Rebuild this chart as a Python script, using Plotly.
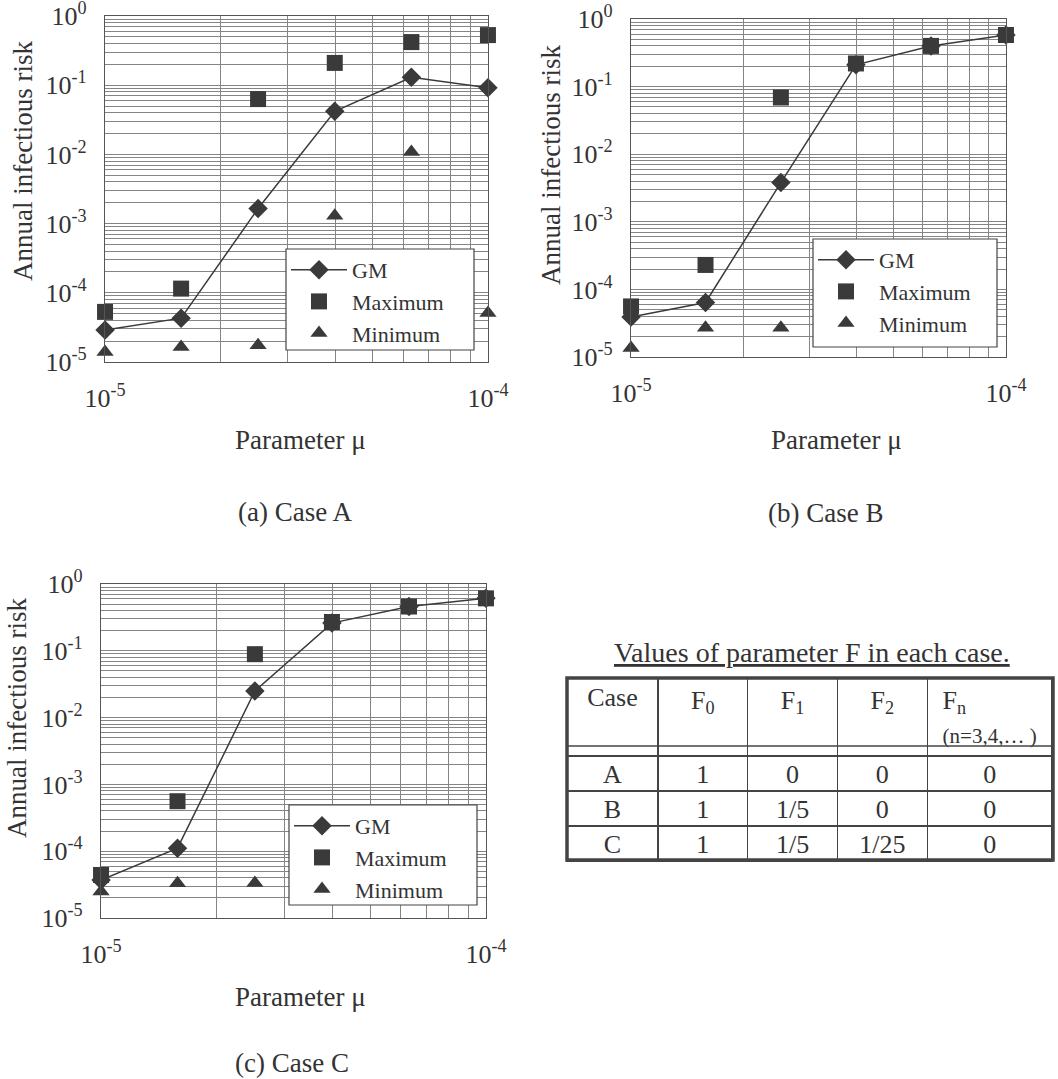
import plotly.graph_objects as go

W, H = 1058, 1079

# ---------------- data ----------------
mu = [1.0e-5, 1.58e-5, 2.51e-5, 3.98e-5, 6.31e-5, 1.0e-4]

gm_a = [2.9e-5, 4.3e-5, 1.65e-3, 4.2e-2, 0.13, 0.092]
max_a = [5.3e-5, 1.15e-4, 0.063, 0.21, 0.42, 0.53]
min_a = [1.4e-5, 1.65e-5, 1.75e-5, 1.3e-3, 1.08e-2, 5.1e-5]

gm_b = [3.9e-5, 6.4e-5, 3.8e-3, 0.21, 0.40, 0.58]
max_b = [5.6e-5, 2.3e-4, 0.069, 0.22, 0.40, 0.58]
min_b = [1.36e-5, 2.7e-5, 2.7e-5, None, None, None]

gm_c = [3.7e-5, 1.11e-4, 0.025, 0.26, 0.46, 0.61]
max_c = [4.4e-5, 5.6e-4, 0.089, 0.27, 0.46, 0.61]
min_c = [2.5e-5, 3.3e-5, 3.35e-5, None, None, None]

series_names = ["GM", "Maximum", "Minimum"]
case_labels = ["(a) Case A", "(b) Case B", "(c) Case C"]
y_decades = [-5, -4, -3, -2, -1, 0]
x_decades = [-5, -4]
x_title = "Parameter \u03bc"
y_title = "Annual infectious risk"

table_title = "Values of parameter F in each case."
table_header = ["Case", "F<sub>0</sub>", "F<sub>1</sub>", "F<sub>2</sub>",
                "F<sub>n</sub><br><span style='font-size:21px'>(n=3,4,\u2026 )</span>"]
table_case = ["A", "B", "C"]
table_f0 = ["1", "1", "1"]
table_f1 = ["0", "1/5", "1/5"]
table_f2 = ["0", "0", "1/25"]
table_fn = ["0", "0", "0"]

# ---------------- style ----------------
FONT = "Liberation Serif"
TXT = "#333333"
MK = "#3a3a3a"
GRID = "#858585"
EPS = 1e-4  # tiny range padding so edge points are not culled


def px_x(p):
    return p / W


def px_y(p):
    return 1 - p / H


def log_ticks(decades):
    vals, texts = [], []
    for d in decades[:-1]:
        for k in range(1, 10):
            vals.append(k * 10.0 ** d)
            texts.append("10<sup>%d</sup>" % d if k == 1 else "")
    vals.append(10.0 ** decades[-1])
    texts.append("10<sup>%d</sup>" % decades[-1])
    return vals, texts


yv, yt = log_ticks(y_decades)
xv, xt = log_ticks(x_decades)

# panel boxes in pixels: (left, right, top, bottom); legend box (l, r, t, b)
panels = [
    dict(box=(105, 488, 16, 362), data=(gm_a, max_a, min_a), legend=(286, 474, 249, 350),
         ytitle=(23, 161), xtitle=(300, 440), caption=(295, 512)),
    dict(box=(631, 1006, 19, 357), data=(gm_b, max_b, min_b), legend=(813, 997, 239, 347),
         ytitle=(551, 165), xtitle=(836, 440), caption=(825, 513)),
    dict(box=(101, 486, 584, 918), data=(gm_c, max_c, min_c), legend=(289, 477, 805, 905),
         ytitle=(17, 718), xtitle=(300, 997), caption=(292, 1063)),
]

fig = go.Figure()
layout = dict(
    width=W, height=H,
    margin=dict(l=0, r=0, t=0, b=0, autoexpand=False),
    paper_bgcolor="white", plot_bgcolor="white",
    font=dict(family=FONT, color=TXT, size=26),
    annotations=[], shapes=[],
)

for i, p in enumerate(panels):
    n = "" if i == 0 else str(i + 1)
    xa, ya = "x" + n, "y" + n
    lg = "legend" + n
    l, r, t, b = p["box"]
    gm, mx, mn = p["data"]
    fig.add_trace(go.Scatter(
        x=mu, y=gm, mode="lines+markers", name=series_names[0],
        line=dict(color=MK, width=1.5),
        marker=dict(symbol="diamond", size=15, color=MK),
        xaxis=xa, yaxis=ya, legend=lg, cliponaxis=False))
    fig.add_trace(go.Scatter(
        x=mu, y=mx, mode="markers", name=series_names[1],
        marker=dict(symbol="square", size=16, color=MK),
        xaxis=xa, yaxis=ya, legend=lg, cliponaxis=False))
    fig.add_trace(go.Scatter(
        x=mu, y=mn, mode="markers", name=series_names[2],
        marker=dict(symbol="triangle-up", size=15, color=MK),
        xaxis=xa, yaxis=ya, legend=lg, cliponaxis=False))

    axis_common = dict(
        type="log", showgrid=True, gridcolor=GRID, gridwidth=1,
        showline=True, linecolor="#555555", linewidth=1.2, mirror=True,
        ticks="", zeroline=False, automargin=False, ticklabeloverflow="allow",
        tickfont=dict(family=FONT, size=26, color=TXT),
    )
    layout["xaxis" + n] = dict(
        axis_common, domain=[px_x(l), px_x(r)], anchor=ya,
        range=[x_decades[0] - EPS, x_decades[-1] + EPS],
        tickmode="array", tickvals=xv, ticktext=xt, ticklabelstandoff=13)
    layout["yaxis" + n] = dict(
        axis_common, domain=[px_y(b), px_y(t)], anchor=xa,
        range=[y_decades[0] - EPS, y_decades[-1] + EPS],
        tickmode="array", tickvals=yv, ticktext=yt, ticklabelstandoff=12)

    bl, br, bt, bb = p["legend"]
    layout["shapes"].append(dict(
        type="rect", xref="paper", yref="paper", layer="above",
        x0=px_x(bl), x1=px_x(br), y0=px_y(bb), y1=px_y(bt),
        line=dict(color="#444444", width=1.2), fillcolor="white"))
    layout[lg] = dict(
        x=px_x(bl), y=px_y(bt), xanchor="left", yanchor="top",
        xref="paper", yref="paper",
        bgcolor="rgba(0,0,0,0)", borderwidth=0,
        font=dict(family=FONT, size=22, color=TXT), itemwidth=56,
        tracegroupgap=0)

    tx, ty = p["ytitle"]
    layout["annotations"].append(dict(
        text=y_title, x=px_x(tx), y=px_y(ty), xref="paper", yref="paper",
        textangle=-90, showarrow=False, xanchor="center", yanchor="middle",
        font=dict(family=FONT, size=27, color=TXT)))
    tx, ty = p["xtitle"]
    layout["annotations"].append(dict(
        text=x_title, x=px_x(tx), y=px_y(ty), xref="paper", yref="paper",
        showarrow=False, xanchor="center", yanchor="middle",
        font=dict(family=FONT, size=27, color=TXT)))
    tx, ty = p["caption"]
    layout["annotations"].append(dict(
        text=case_labels[i], x=px_x(tx), y=px_y(ty), xref="paper", yref="paper",
        showarrow=False, xanchor="center", yanchor="middle",
        font=dict(family=FONT, size=27, color=TXT)))

# ---------------- table ----------------
tl, tr, tt, tb = 567, 1053, 678, 860
fig.add_trace(go.Table(
    domain=dict(x=[px_x(tl), px_x(tr)], y=[px_y(tb + 40), px_y(tt)]),
    columnwidth=[91, 90, 90, 90, 125],
    header=dict(values=table_header, height=73, align="center",
                line=dict(color="#444444", width=1.5), fill=dict(color="white"),
                font=dict(family=FONT, size=26, color=TXT)),
    cells=dict(values=[table_case, table_f0, table_f1, table_f2, table_fn],
               height=35, align="center",
               line=dict(color="#444444", width=1.5), fill=dict(color="white"),
               font=dict(family=FONT, size=26, color=TXT)),
))
layout["annotations"].append(dict(
    text="<u>" + table_title + "</u>", x=px_x(812), y=px_y(652),
    xref="paper", yref="paper", showarrow=False, xanchor="center", yanchor="middle",
    font=dict(family=FONT, size=28, color=TXT)))
layout["shapes"].append(dict(
    type="rect", xref="paper", yref="paper",
    x0=px_x(tl), x1=px_x(tr), y0=px_y(tb), y1=px_y(tt),
    line=dict(color="#444444", width=3.5), fillcolor="rgba(0,0,0,0)"))
layout["shapes"].append(dict(
    type="line", xref="paper", yref="paper",
    x0=px_x(tl), x1=px_x(tr), y0=px_y(746), y1=px_y(746),
    line=dict(color="#444444", width=1.5)))

fig.update_layout(**layout)
fig.write_html(
    "out.html",
    config={"displayModeBar": False},
    post_script="document.body.style.margin='0';document.body.style.overflow='hidden';")
